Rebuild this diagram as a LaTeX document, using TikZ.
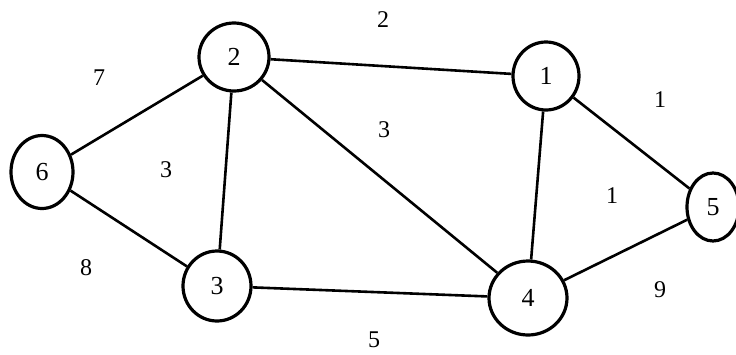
\documentclass[tikz,border=0pt]{standalone}
\usepackage{fontspec}
\setmainfont{Liberation Serif}
\usetikzlibrary{shapes.geometric}
\begin{document}
\begin{tikzpicture}[x=1pt,y=-1pt,
  vtx/.style={ellipse,draw=black,line width=3.2pt,inner sep=0pt,font=\fontsize{26}{30}\selectfont},
  edge/.style={draw=black,line width=2.6pt},
  wlab/.style={font=\fontsize{24}{28}\selectfont}]
\useasboundingbox (0,0) rectangle (736,354);
\clip (0,0) rectangle (736,354);
\node[vtx,minimum width=70pt,minimum height=68pt] (n2) at (234,57) {2};
\node[vtx,minimum width=66pt,minimum height=68pt] (n1) at (546,76) {1};
\node[vtx,minimum width=62pt,minimum height=73pt] (n6) at (42,172) {6};
\node[vtx,minimum width=68pt,minimum height=70pt] (n3) at (217,286) {3};
\node[vtx,minimum width=78pt,minimum height=74pt] (n4) at (528,298) {4};
\node[vtx,minimum width=52pt,minimum height=68pt] (n5) at (713,207) {5};
\draw[edge] (n2) -- (n1);
\draw[edge] (n2) -- (n6);
\draw[edge] (n2) -- (n3);
\draw[edge] (n2) -- (n4);
\draw[edge] (n1) -- (n4);
\draw[edge] (n1) -- (n5);
\draw[edge] (n6) -- (n3);
\draw[edge] (n3) -- (n4);
\draw[edge] (n4) -- (n5);
\node[wlab] (w21) at (383,20) {2};
\node[wlab] (w26) at (99,78) {7};
\node[wlab] (w23) at (166,170) {3};
\node[wlab] (w24) at (384,130) {3};
\node[wlab] (w15) at (660,100) {1};
\node[wlab] (w14) at (612,196) {1};
\node[wlab] (w63) at (86,268) {8};
\node[wlab] (w45) at (660,290) {9};
\node[wlab] (w34) at (374,340) {5};
\end{tikzpicture}
\end{document}
